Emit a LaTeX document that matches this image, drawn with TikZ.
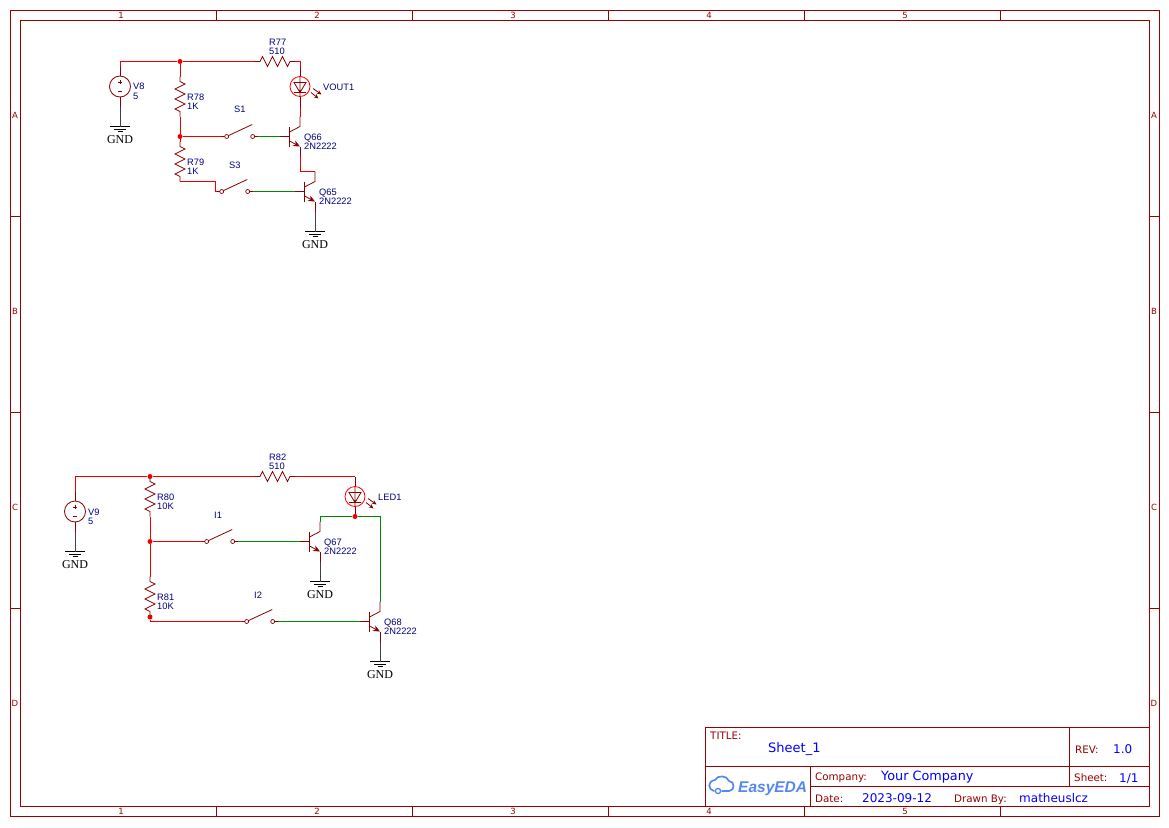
\documentclass[tikz,border=0pt]{standalone}
\usepackage{fontspec}
\setmainfont{DejaVu Sans}
\newfontfamily\partfont{Liberation Sans}
\newfontfamily\gndfont{Liberation Serif}
\usetikzlibrary{arrows.meta}
\definecolor{framered}{HTML}{990000}
\definecolor{wirered}{HTML}{EE0000}
\definecolor{wiregreen}{HTML}{008800}
\definecolor{partred}{HTML}{880000}
\definecolor{partblue}{HTML}{000080}
\definecolor{fieldblue}{HTML}{0000FF}
\definecolor{logoblue}{HTML}{5588EE}
\tikzset{
    x=1pt, y=-1pt,
    edge/.style={draw=framered, line width=0.9pt},
    wire/.style={draw=wirered, line width=0.9pt},
    gwire/.style={draw=wiregreen, line width=0.9pt},
    part/.style={draw=partred, line width=0.8pt},
    gpin/.style={draw=black!75, line width=0.9pt},
    dot/.style={circle, fill=wirered, inner sep=0pt, minimum size=5pt},
    contact/.style={circle, draw=partred, fill=white, line width=0.7pt, inner sep=0pt, minimum size=4pt},
    partlabel/.style={anchor=base west, inner sep=0pt, text=partblue, font=\partfont\fontsize{9.3}{10}\selectfont},
    ticklabel/.style={inner sep=0pt, text=framered, font=\fontsize{8.5}{10}\selectfont},
    boxlabel/.style={anchor=base west, inner sep=0pt, text=framered, font=\fontsize{10.3}{12}\selectfont},
    boxfield/.style={anchor=base west, inner sep=0pt, text=fieldblue, font=\fontsize{12}{14}\selectfont},
    resh/.pic={
        \draw[part] (-5,0) -- (0,0) -- (2.5,-5) -- (7.5,5) -- (12.5,-5) -- (17.5,5) -- (22.5,-5) -- (27.5,5) -- (30,0) -- (35,0);
        \coordinate (-a) at (-5,0);
        \coordinate (-b) at (35,0);
    },
    resv/.pic={
        \draw[part] (0,-5) -- (0,0) -- (5,2.5) -- (-5,7.5) -- (5,12.5) -- (-5,17.5) -- (5,22.5) -- (-5,27.5) -- (0,30) -- (0,35);
        \coordinate (-a) at (0,-5);
        \coordinate (-b) at (0,35);
    },
    source/.pic={
        \draw[part] (0,-20) -- (0,-10.5) (0,10.5) -- (0,20);
        \draw[part] (0,0) circle (10.5);
        \draw[part, line width=0.6pt] (-2.2,-4.5) -- (2.2,-4.5) (0,-6.7) -- (0,-2.3) (-2.2,5) -- (2.2,5);
        \coordinate (-a) at (0,-20);
        \coordinate (-b) at (0,20);
    },
    led/.pic={
        \draw[part] (0,-20) -- (0,-10) (0,10) -- (0,20);
        \draw[draw=red, line width=0.8pt] (0,0) circle (10);
        \draw[part] (-6,-4) -- (6,-4) -- (0,6) -- cycle (-6,6) -- (6,6) (0,-10) -- (0,10);
        \draw[part, -{Stealth[length=4.5pt,width=4pt]}] (13,2) -- (21.5,8);
        \draw[part, -{Stealth[length=4.5pt,width=4pt]}] (11,6) -- (18.5,12);
        \coordinate (-a) at (0,-20);
        \coordinate (-b) at (0,20);
    },
    npn/.pic={
        \draw[part] (-10,0) -- (0,0);
        \draw[part, line width=1.7pt] (0,-10) -- (0,10);
        \draw[part] (10.5,-20) -- (10.5,-10) -- (0,-4.5);
        \draw[part] (10.5,20) -- (10.5,10);
        \draw[part, -{Stealth[length=7pt,width=6pt]}] (0,4.5) -- (10.5,10);
        \coordinate (-b) at (-10,0);
        \coordinate (-c) at (10.5,-20);
        \coordinate (-e) at (10.5,20);
    },
    switch/.pic={
        \draw[part] (-5,0) -- (-2,0) (28,0) -- (31,0);
        \draw[part] (1.5,-0.8) -- (25.5,-12);
        \node[contact] (-l) at (0,0) {};
        \node[contact] (-r) at (26,0) {};
        \coordinate (-a) at (-5,0);
        \coordinate (-b) at (31,0);
    },
    gnd/.pic={
        \draw[black, line width=0.9pt] (-10,0) -- (10,0);
        \draw[black, line width=0.7pt] (-6,2.5) -- (6,2.5) (-2.5,5) -- (2.5,5);
        \node[inner sep=0pt, font=\gndfont\fontsize{12}{14}\selectfont] (-t) at (0,13) {GND};
        \coordinate (-a) at (0,0);
    },
}
\begin{document}
\begin{tikzpicture}
    \useasboundingbox (0,0) rectangle (1169,827);
    % sheet frame
    \draw[edge] (10,10.5) rectangle (1159,816.5);
    \draw[edge] (20,20.5) rectangle (1149,806.5);
    \foreach \i in {1,...,5} {
        \draw[edge] ({20+196*\i},10.5) -- ({20+196*\i},20.5);
        \draw[edge] ({20+196*\i},806.5) -- ({20+196*\i},816.5);
        \node[ticklabel] (top\i) at ({121+196*(\i-1)},15.5) {\i};
        \node[ticklabel] (bot\i) at ({121+196*(\i-1)},811.5) {\i};
    }
    \foreach \i in {1,2,3} {
        \draw[edge] (10,{20.5+196*\i}) -- (20,{20.5+196*\i});
        \draw[edge] (1149,{20.5+196*\i}) -- (1159,{20.5+196*\i});
    }
    \foreach \r [count=\i from 0] in {A,B,C,D} {
        \node[ticklabel] (left\r) at (15,{115.5+196*\i}) {\r};
        \node[ticklabel] (right\r) at (1154,{115.5+196*\i}) {\r};
    }
    % title block
    \fill[white] (705,727) rectangle (1149,806);
    \draw[edge] (705,727) rectangle (1149,806);
    \draw[edge] (705,766) -- (1149,766);
    \draw[edge] (810,786) -- (1149,786);
    \draw[edge] (810,766) -- (810,806);
    \draw[edge] (1069.5,727) -- (1069.5,786);
    \node[boxlabel] (title) at (710,739) {TITLE:};
    \node[boxfield, font=\fontsize{13}{15}\selectfont] (sheetname) at (768,752) {Sheet\_1};
    \node[boxlabel] (rev) at (1075,753) {REV:};
    \node[boxfield] (revval) at (1113,753) {1.0};
    \node[boxlabel] (company) at (815,780) {Company:};
    \node[boxfield, font=\fontsize{12.8}{15}\selectfont] (companyval) at (881,780) {Your Company};
    \node[boxlabel] (sheet) at (1074,781) {Sheet:};
    \node[boxfield] (sheetval) at (1119,782) {1/1};
    \node[boxlabel] (date) at (815,802) {Date:};
    \node[boxfield] (dateval) at (862,802) {2023-09-12};
    \node[boxlabel] (drawn) at (954,802) {Drawn By:};
    \node[boxfield] (drawnval) at (1019,802) {matheuslcz};
    \draw[logoblue, line width=1.7pt, line cap=round] (714,791) .. controls (708,790) and (707,781) .. (715,780)
        .. controls (717,775) and (727,775) .. (729,781) .. controls (735,781) and (735,791) .. (729,791) -- (722,791);
    \draw[logoblue, line width=1.3pt] (718,791) circle (2.6);
    \node[anchor=base west, inner sep=0pt, text=logoblue, font=\partfont\bfseries\itshape\fontsize{15.5}{17}\selectfont] (logo) at (738,792.5) {EasyEDA};
    % top circuit
    \pic (V8) at (120,86.5) {source};
    \pic (VOUT1) at (300,86.5) {led};
    \pic (R77) at (260,61.5) {resh};
    \pic (R82) at (260,476.5) {resh};
    \foreach \n/\x/\y in {R78/180/81.5,R79/180/146.5,R80/150/481.5,R81/150/581.5}
        \pic (\n) at (\x,\y) {resv};
    \foreach \n/\x/\y in {Q66/289.5/136.5,Q65/304.5/191.5,Q67/309.5/541.5,Q68/369.5/621.5}
        \pic (\n) at (\x,\y) {npn};
    \foreach \n/\x/\y in {S1/226.7/136.5,S3/221.7/191.5,I1/206.7/541.5,I2/246.7/621.5}
        \pic (\n) at (\x,\y) {switch};
    \foreach \n/\x/\y in {G8/120/126.5,G65/315/231.5,G9/75/551.5,G67/320/581.5,G68/380/661.5}
        \pic (\n) at (\x,\y) {gnd};
    \node[dot] (J1) at (180,61.5) {};
    \node[dot] (J2) at (180,136.5) {};
    \draw[wire] (V8-a) |- (J1);
    \draw[wire] (J1) -- (R77-a);
    \draw[wire] (R77-b) -| (VOUT1-a);
    \draw[wire] (J1) -- (R78-a);
    \draw[wire] (R78-b) -- (J2);
    \draw[wire] (J2) -- (R79-a);
    \draw[wire] (J2) -- (S1-a);
    \draw[wire] (VOUT1-b) -- (Q66-c);
    \draw[wire] (R79-b) -- (180,181.5) -| (215,191.5) -- (S3-a);
    \draw[gwire] (S1-b) -- (Q66-b);
    \draw[gwire] (S3-b) -- (Q65-b);
    \draw[wire] (Q66-e) |- (Q65-c);
    \draw[gpin] (V8-b) -- (G8-a);
    \draw[gpin] (Q65-e) -- (G65-a);
    % bottom circuit
    \pic (V9) at (75,511.5) {source};
    \pic (LED1) at (355,496.5) {led};
    \node[dot] (J3) at (150,476.5) {};
    \node[dot] (J4) at (150,541.5) {};
    \node[dot] (J5) at (150,617) {};
    \node[dot] (J6) at (355,516.5) {};
    \draw[wire] (V9-a) |- (J3);
    \draw[wire] (J3) -- (R82-a);
    \draw[wire] (R82-b) -| (LED1-a);
    \draw[wire] (J3) -- (R80-a);
    \draw[wire] (R80-b) -- (J4);
    \draw[wire] (J4) -- (R81-a);
    \draw[wire] (J4) -- (I1-a);
    \draw[wire] (J5) |- (I2-a);
    \draw[wire] (LED1-b) -- (J6);
    \draw[gwire] (I1-b) -- (Q67-b);
    \draw[gwire] (I2-b) -- (Q68-b);
    \draw[gwire] (J6) -| (Q67-c);
    \draw[gwire] (J6) -| (Q68-c);
    \draw[gpin] (V9-b) -- (G9-a);
    \draw[gpin] (Q67-e) -- (G67-a);
    \draw[gpin] (Q68-e) -- (G68-a);
    % part names and values
    \foreach \n/\v/\x/\y in {V8/5/133/89.5,V9/5/88/515,R77/510/269/45,R78/1K/187/100,R79/1K/187/165,
            R80/10K/157/500,R81/10K/157/600,R82/510/269/460,Q66/2N2222/304/140,Q65/2N2222/319/195,
            Q67/2N2222/324/545,Q68/2N2222/384/625} {
        \node[partlabel] (\n name) at (\x,\y) {\n};
        \node[partlabel] (\n val) at (\x,\y+9.5) {\v};
    }
    \foreach \n/\x/\y in {VOUT1/323/90,LED1/378/500,S1/234/112.5,S3/229/168,I1/214/518.5,I2/254/598.5}
        \node[partlabel] (\n name) at (\x,\y) {\n};
\end{tikzpicture}
\end{document}
